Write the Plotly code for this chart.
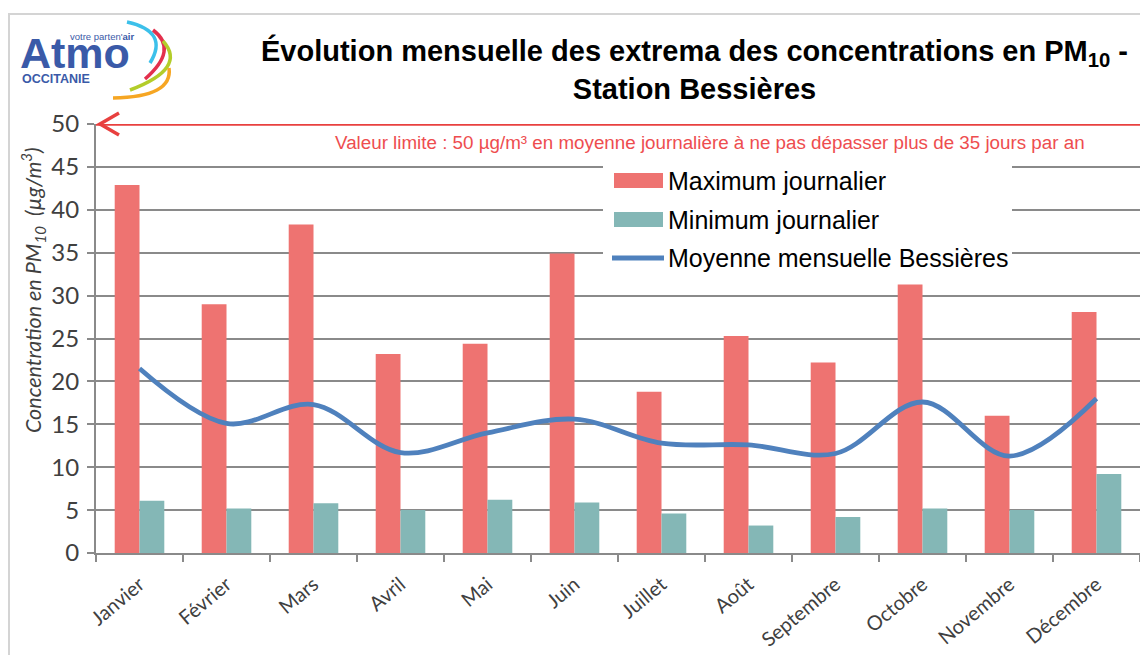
import plotly.graph_objects as go

# ---------------- data ----------------
months = ["Janvier", "Février", "Mars", "Avril", "Mai", "Juin",
          "Juillet", "Août", "Septembre", "Octobre", "Novembre", "Décembre"]
max_journalier = [42.9, 29.0, 38.3, 23.2, 24.4, 34.9, 18.8, 25.3, 22.2, 31.3, 16.0, 28.1]
min_journalier = [6.1, 5.2, 5.8, 5.0, 6.2, 5.9, 4.6, 3.2, 4.2, 5.2, 5.0, 9.2]
moyenne_mensuelle = [21.5, 15.1, 17.3, 11.7, 14.0, 15.6, 12.8, 12.6, 11.6, 17.6, 11.3, 18.0]
series_names = ["Maximum journalier", "Minimum journalier", "Moyenne mensuelle Bessières"]
valeur_limite = 50
y_ticks = [0, 5, 10, 15, 20, 25, 30, 35, 40, 45, 50]

# ---------------- geometry (page has an 8px body margin) ----------------
OFF = 8
W, H = 1148 - OFF, 655 - OFF
PLOT_L, PLOT_R, PLOT_T, PLOT_B = 96, 1140, 124, 553      # in page pixels
L, R, T, B = PLOT_L - OFF, W - (PLOT_R - OFF), PLOT_T - OFF, H - (PLOT_B - OFF)
PW, PH = W - L - R, H - T - B

C_MAX = "#ee7371"
C_MIN = "#84b7b6"
C_MEAN = "#4f81bd"
C_RED = "#e8403f"
C_GRID = "#8a8a8a"
C_TXT = "#404040"
NARROW = "Liberation Sans Narrow, Arial Narrow, Liberation Sans, sans-serif"
BODY = "Lato, Carlito, Calibri, sans-serif"
LOGO_FONT = "Liberation Sans, Arial, sans-serif"
LOGO_BLUE = "#3a5aa8"


def px(x):
    return (x - PLOT_L) / PW


def py(y):
    return (PLOT_B - y) / PH


fig = go.Figure()
fig.add_trace(go.Bar(x=months, y=max_journalier, name=series_names[0],
                     marker=dict(color=C_MAX, line=dict(width=0))))
fig.add_trace(go.Bar(x=months, y=min_journalier, name=series_names[1],
                     marker=dict(color=C_MIN, line=dict(width=0))))
fig.add_trace(go.Scatter(x=months, y=moyenne_mensuelle, name=series_names[2],
                         mode="lines", line=dict(color=C_MEAN, width=4.8,
                                                 shape="spline", smoothing=1.0)))

shapes = []
annotations = []

# outer frame (top and left edges)
shapes.append(dict(type="line", xref="paper", yref="paper",
                   x0=px(8), x1=px(1148), y0=py(14), y1=py(14),
                   line=dict(color="#d4d4d4", width=2)))
shapes.append(dict(type="line", xref="paper", yref="paper",
                   x0=px(9), x1=px(9), y0=py(14), y1=py(655),
                   line=dict(color="#d4d4d4", width=2)))

# limit value line with open arrow head
shapes.append(dict(type="line", xref="x", yref="y", x0=-0.5, x1=len(months) - 0.5,
                   y0=valeur_limite, y1=valeur_limite, layer="above",
                   line=dict(color=C_RED, width=3.5)))
shapes.append(dict(type="path", xref="paper", yref="paper", layer="above",
                   path=f"M{px(119)},{py(113)} L{px(100)},{py(124)} L{px(119)},{py(135)}",
                   line=dict(color=C_RED, width=3.5)))
annotations.append(dict(xref="paper", yref="paper", x=px(710), y=py(142),
                        xanchor="center", yanchor="middle", showarrow=False,
                        text="Valeur limite : 50 µg/m³ en moyenne journalière à ne pas dépasser plus de 35 jours par an",
                        font=dict(family=NARROW, size=18.8, color="#ee4d4f")))

# custom legend
shapes.append(dict(type="rect", xref="paper", yref="paper", layer="above",
                   x0=px(603), x1=px(1012), y0=py(162), y1=py(276),
                   fillcolor="white", line=dict(width=0)))
shapes.append(dict(type="rect", xref="paper", yref="paper", layer="above",
                   x0=px(614), x1=px(663), y0=py(173), y1=py(188),
                   fillcolor=C_MAX, line=dict(width=0)))
shapes.append(dict(type="rect", xref="paper", yref="paper", layer="above",
                   x0=px(614), x1=px(663), y0=py(212), y1=py(227),
                   fillcolor=C_MIN, line=dict(width=0)))
shapes.append(dict(type="line", xref="paper", yref="paper", layer="above",
                   x0=px(612), x1=px(664), y0=py(258), y1=py(258),
                   line=dict(color=C_MEAN, width=5)))
for name, yc in zip(series_names, [181, 220, 258]):
    annotations.append(dict(xref="paper", yref="paper", x=px(666), y=py(yc),
                            xanchor="left", yanchor="middle", showarrow=False,
                            text=name, font=dict(family=NARROW, size=25, color="black")))

# title
annotations.append(dict(xref="paper", yref="paper", x=px(694), y=py(69),
                        xanchor="center", yanchor="middle", showarrow=False,
                        text="<b>Évolution mensuelle des extrema des concentrations en PM<sub>10</sub> -</b><br><b>Station Bessières</b>",
                        font=dict(family=NARROW, size=29, color="black")))

# y axis title
annotations.append(dict(xref="paper", yref="paper", x=px(33), y=py(290),
                        xanchor="center", yanchor="middle", showarrow=False, textangle=-90,
                        text="<i>Concentration en PM<sub>10</sub>  (µg/m<sup>3</sup>)</i>",
                        font=dict(family=BODY, size=21.5, color=C_TXT)))

# logo
annotations.append(dict(xref="paper", yref="paper", x=px(18), y=py(53),
                        xanchor="left", yanchor="middle", showarrow=False,
                        text="<b>Atmo</b>",
                        font=dict(family=LOGO_FONT, size=43, color=LOGO_BLUE)))
annotations.append(dict(xref="paper", yref="paper", x=px(20), y=py(79),
                        xanchor="left", yanchor="middle", showarrow=False,
                        text="<b>OCCITANIE</b>",
                        font=dict(family=LOGO_FONT, size=12.5, color=LOGO_BLUE)))
annotations.append(dict(xref="paper", yref="paper", x=px(68), y=py(36),
                        xanchor="left", yanchor="middle", showarrow=False,
                        text="votre parten'<b>air</b>",
                        font=dict(family=LOGO_FONT, size=9.5, color=LOGO_BLUE)))


def qpath(p0, m, p2):
    cx = 2 * m[0] - (p0[0] + p2[0]) / 2
    cy = 2 * m[1] - (p0[1] + p2[1]) / 2
    return f"M{px(p0[0])},{py(p0[1])} Q{px(cx)},{py(cy)} {px(p2[0])},{py(p2[1])}"


for (p0, m, p2), col in [
    (((127, 22), (154, 37), (150, 63)), "#3cc0ea"),
    (((153, 30), (164, 52), (145, 79)), "#e3304d"),
    (((163, 41), (167, 67), (130, 90)), "#b3cd2a"),
    (((169, 68), (157, 90), (113, 98)), "#f6a623"),
]:
    shapes.append(dict(type="path", xref="paper", yref="paper", layer="above",
                       path=qpath(p0, m, p2), line=dict(color=col, width=3.5)))

fig.update_layout(
    width=W, height=H,
    margin=dict(l=L, r=R, t=T, b=B, autoexpand=False),
    paper_bgcolor="white", plot_bgcolor="white",
    barmode="group", bargap=0.43, bargroupgap=0.0,
    showlegend=False,
    shapes=shapes, annotations=annotations,
    xaxis=dict(type="category", range=[-0.5, len(months) - 0.5],
               showgrid=False, showline=True, linecolor=C_GRID, linewidth=2,
               ticks="outside", tickson="boundaries", ticklen=7, tickwidth=2, tickcolor=C_GRID,
               tickangle=-40, ticklabelstandoff=10,
               tickfont=dict(family=BODY, size=20, color=C_TXT)),
    yaxis=dict(range=[0, valeur_limite], tickvals=y_ticks, showgrid=True,
               gridcolor=C_GRID, gridwidth=2, zeroline=False,
               showline=True, linecolor=C_GRID, linewidth=2,
               ticks="outside", ticklen=7, tickwidth=2, tickcolor=C_GRID,
               ticklabelstandoff=3,
               tickfont=dict(family=BODY, size=24, color=C_TXT)),
)

fig.write_html("out.html")
